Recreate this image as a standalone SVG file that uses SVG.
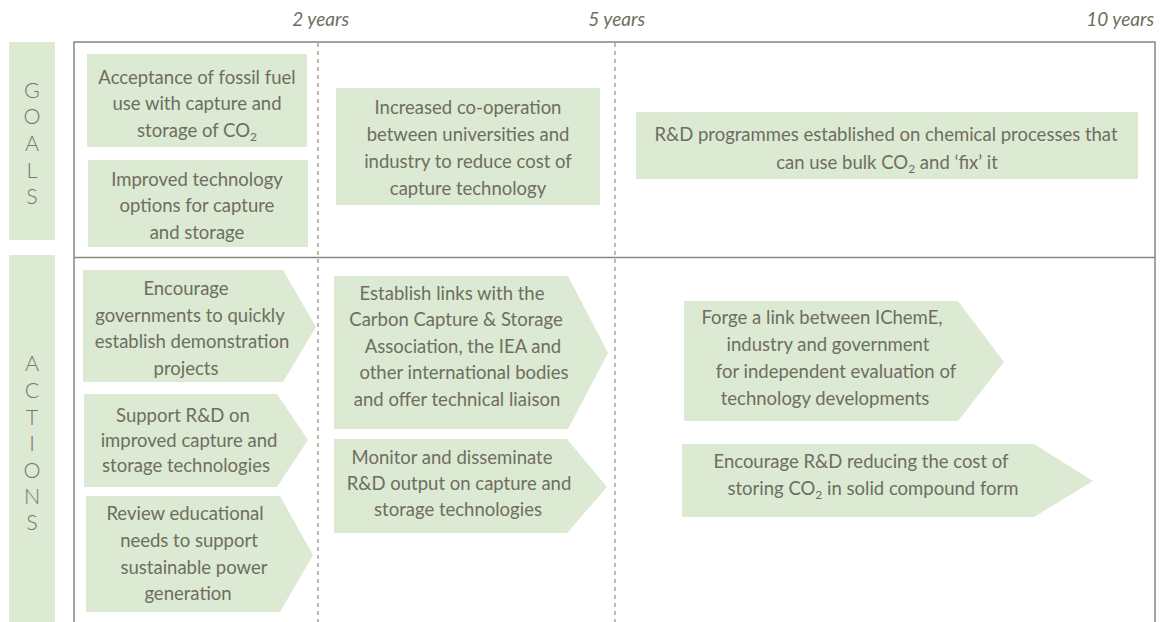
<svg xmlns="http://www.w3.org/2000/svg" width="1169" height="622" viewBox="0 0 1169 622">
<style>
.box{fill:#dce9d3}
.t{font-family:Lato,"Open Sans",sans-serif;font-size:18.5px;fill:#6e6e60;text-anchor:middle}
.yr{font-family:Lato,"Open Sans",sans-serif;font-size:19px;font-style:italic;fill:#6e6e60}
.side{font-family:Lato,"Open Sans",sans-serif;font-size:21.5px;font-weight:300;fill:#76766a;text-anchor:middle}
.frame{stroke:#86867a;stroke-width:1.5;fill:none}
.dash{stroke:#7a7a6c;stroke-width:1;stroke-dasharray:4 4;fill:none}
.sub{font-size:12px}
</style>
<rect width="1169" height="622" fill="#ffffff"/>
<g id="timeline">
<text class="yr" x="349" y="26" text-anchor="end">2 years</text>
<text class="yr" x="645" y="26" text-anchor="end">5 years</text>
<text class="yr" x="1154" y="26" text-anchor="end">10 years</text>
</g>
<g id="frame">
<path class="frame" d="M74,622 V42 H1155 V622"/>
<path class="frame" d="M74,257.5 H1155"/>
<path class="dash" d="M318,43 V622"/>
<path class="dash" d="M615,43 V622"/>
</g>
<g id="goals-label">
<rect class="box" x="9" y="42" width="46" height="198"/>
<text class="side" x="32" y="98">G</text>
<text class="side" x="32" y="124">O</text>
<text class="side" x="32" y="151">A</text>
<text class="side" x="32" y="178">L</text>
<text class="side" x="32" y="204">S</text>
</g>
<g id="actions-label">
<rect class="box" x="9" y="255" width="46" height="367"/>
<text class="side" x="32" y="371">A</text>
<text class="side" x="32" y="398">C</text>
<text class="side" x="32" y="425">T</text>
<text class="side" x="32" y="451">I</text>
<text class="side" x="32" y="478">O</text>
<text class="side" x="32" y="504">N</text>
<text class="side" x="32" y="530">S</text>
</g>
<g id="goal1">
<rect class="box" x="87" y="54" width="220" height="93"/>
<text class="t" x="197" y="83.5">Acceptance of fossil fuel</text>
<text class="t" x="197" y="110">use with capture and</text>
<text class="t" x="197" y="136.5">storage of CO<tspan class="sub" dy="4">2</tspan></text>
</g>
<g id="goal2">
<rect class="box" x="88" y="160" width="220" height="87"/>
<text class="t" x="197" y="185.5">Improved technology</text>
<text class="t" x="197" y="212">options for capture</text>
<text class="t" x="197" y="238.5">and storage</text>
</g>
<g id="goal3">
<rect class="box" x="336" y="88" width="264" height="117"/>
<text class="t" x="468" y="113.5">Increased co-operation</text>
<text class="t" x="468" y="140.5">between universities and</text>
<text class="t" x="468" y="167.5">industry to reduce cost of</text>
<text class="t" x="468" y="194.5">capture technology</text>
</g>
<g id="goal4">
<rect class="box" x="636" y="112" width="502" height="67"/>
<text class="t" x="886" y="140.5">R&amp;D programmes established on chemical processes that</text>
<text class="t" x="887" y="168.5">can use bulk CO<tspan class="sub" dy="4">2</tspan><tspan dy="-4"> and ‘fix’ it</tspan></text>
</g>
<g id="action1">
<polygon class="box" points="83,270 283,270 316,327 283,382 83,382"/>
<text class="t" x="186" y="294.5">Encourage</text>
<text class="t" x="190" y="321.5">governments to quickly</text>
<text class="t" x="192" y="347.5">establish demonstration</text>
<text class="t" x="186" y="374.5">projects</text>
</g>
<g id="action2">
<polygon class="box" points="84,394 277,394 308,440 277,487 84,487"/>
<text class="t" x="183" y="421.5">Support R&amp;D on</text>
<text class="t" x="189" y="446.5">improved capture and</text>
<text class="t" x="186" y="471.5">storage technologies</text>
</g>
<g id="action3">
<polygon class="box" points="86,496 280,496 313,555 280,612 86,612"/>
<text class="t" x="185" y="519.5">Review educational</text>
<text class="t" x="189" y="546.5">needs to support</text>
<text class="t" x="194" y="573.5">sustainable power</text>
<text class="t" x="188" y="599.5">generation</text>
</g>
<g id="action4">
<polygon class="box" points="334,276 568,276 608,353 568,429 334,429"/>
<text class="t" x="452" y="299.5">Establish links with the</text>
<text class="t" x="456" y="326">Carbon Capture &amp; Storage</text>
<text class="t" x="463" y="352.5">Association, the IEA and</text>
<text class="t" x="464" y="379">other international bodies</text>
<text class="t" x="457" y="405.5">and offer technical liaison</text>
</g>
<g id="action5">
<polygon class="box" points="334,439 567,439 607,487 567,533 334,533"/>
<text class="t" x="452" y="463.5">Monitor and disseminate</text>
<text class="t" x="459" y="489.5">R&amp;D output on capture and</text>
<text class="t" x="458" y="515.5">storage technologies</text>
</g>
<g id="action6">
<polygon class="box" points="684,301 958,301 1004,362 958,421 684,421"/>
<text class="t" x="822" y="324">Forge a link between IChemE,</text>
<text class="t" x="828" y="351">industry and government</text>
<text class="t" x="836" y="378">for independent evaluation of</text>
<text class="t" x="825" y="405">technology developments</text>
</g>
<g id="action7">
<polygon class="box" points="682,444 1034,444 1093,481 1034,517 682,517"/>
<text class="t" x="861" y="467.5">Encourage R&amp;D reducing the cost of</text>
<text class="t" x="873" y="494.5">storing CO<tspan class="sub" dy="4">2</tspan><tspan dy="-4"> in solid compound form</tspan></text>
</g>
<g id="connectors"></g>
</svg>
